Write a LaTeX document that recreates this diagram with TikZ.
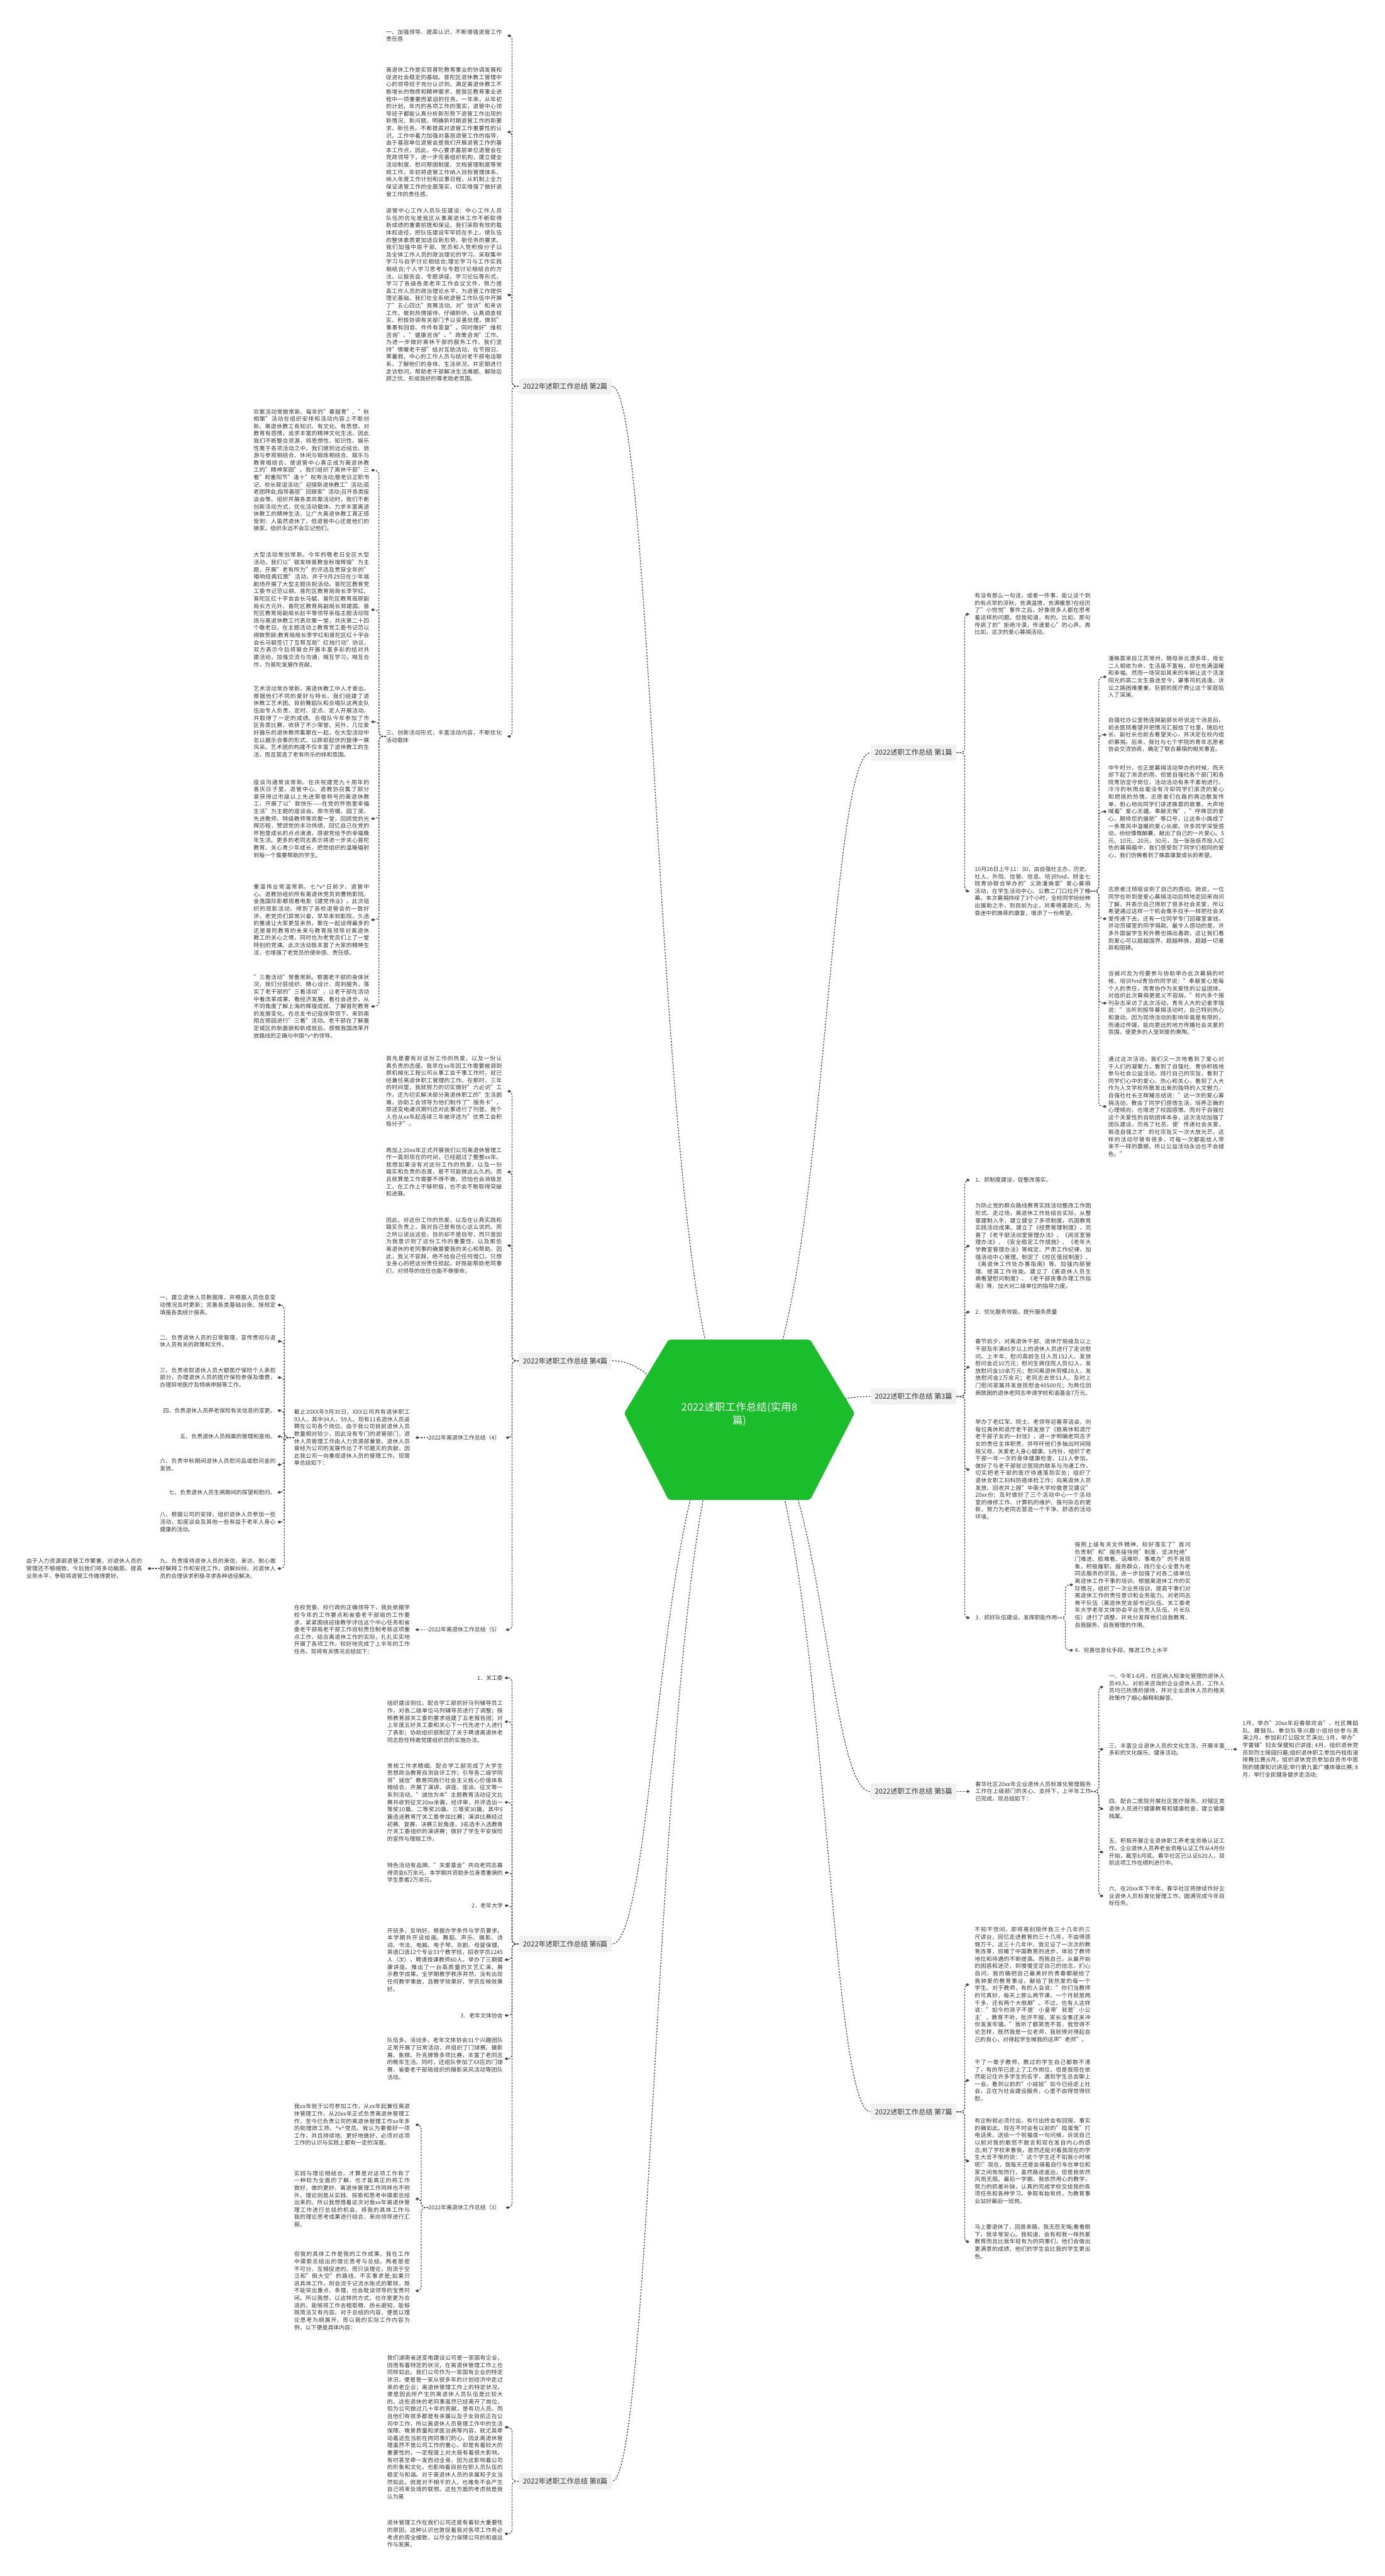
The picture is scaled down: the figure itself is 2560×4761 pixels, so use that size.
\documentclass[tikz,border=0pt]{standalone}
\usepackage{fontspec}
\setmainfont{Noto Sans CJK SC}
\usetikzlibrary{calc,arrows.meta}
\XeTeXlinebreaklocale "zh"
\XeTeXlinebreakskip=0pt plus 1pt
\definecolor{tc}{HTML}{333333}
\definecolor{lc}{HTML}{4A4A4A}
\definecolor{labf}{HTML}{F0F0F0}
\definecolor{cg}{HTML}{19BE2A}
\newcommand\ptxt{\fontsize{10.4}{13.5}\selectfont}
\newcommand\hatv{\textasciicircum v\textasciicircum}
\newcommand\Lc[3]{\draw[conn,dtip] (#1.west) -- ++(-#3,0) |- ($(#2.east)+(10,0)$);}
\newcommand\Rc[3]{\draw[conn,dtip] (#1.east) -- ++(#3,0) |- ($(#2.west)+(-10,0)$);}
\newcommand\Ls[2]{\draw[conn,dtip] (#1.west) -- ($(#2.east)+(10,0)$);}
\newcommand\Rs[2]{\draw[conn,dtip] (#1.east) -- ($(#2.west)+(-10,0)$);}
\begin{document}
\begin{tikzpicture}[x=1pt,y=-1pt,
 every node/.style={inner sep=0pt,text=tc},
 para/.style={font=\ptxt,align=justify,text width=214pt},
 one/.style={font=\ptxt},
 lab/.style={fill=labf,rounded corners=4pt,font=\fontsize{13}{15}\selectfont,inner xsep=8pt,inner ysep=9pt},
 conn/.style={draw=lc,line width=1.5pt,dash pattern=on 3pt off 2.5pt,rounded corners=8pt},
 dtip/.style={-{Diamond[length=7pt,width=5.5pt]}}]
\fill[white] (0,0) rectangle (2560,4761);
\useasboundingbox (0,0) rectangle (2560,4761);
% ---------- 第2篇 ----------
\node[lab] (n2) at (1045,714) {2022年述职工作总结 第2篇};
\node[para,anchor=east] (a1) at (928,66) {一、加强领导、提高认识，不断增强退管工作责任感};
\node[para,anchor=east] (a2) at (928,244) {离退休工作是实现普陀教育事业的协调发展和促进社会稳定的基础。普陀区退休教工管理中心的领导班子充分认识到，满足离退休教工不断增长的物质和精神需求，是我区教育事业进程中一项重要而紧迫的任务。一年来，从年初的计划，年内的各项工作的落实，退管中心领导班子都能认真分析新形势下退管工作出现的新情况、新问题，明确新时期退管工作的新要求、新任务，不断提高对退管工作重要性的认识。工作中着力加强对基层退管工作的指导，由于基层单位退管会是我们开展退管工作的基本工作点，因此，中心要求基层单位退管会在党政领导下，进一步完善组织机构，建立健全活动制度、慰问帮困制度、文档管理制度等常规工作，年初将退管工作纳入目标管理体系，纳入年度工作计划和议事日程，从机制上全力保证退管工作的全面落实，切实增强了做好退管工作的责任感。};
\node[para,anchor=east] (a3) at (928,545) {退管中心工作人员队伍建设：中心工作人员队伍的优化是我区从事离退休工作不断取得新成绩的重要前提和保证。我们采取有效的载体和途径，把队伍建设牢牢抓在手上，使队伍的整体素质更加适应新形势、新任务的要求。我们加强中层干部、党员和入党积极分子以及全体工作人员的政治理论的学习。采取集中学习与自学讨论相结合;理论学习与工作实践相结合;个人学习思考与专题讨论相结合的方法。以报告会、专题讲座、学习论坛等形式，学习了各级各类老年工作会议文件，努力提高工作人员的政治理论水平，为退管工作提供理论基础。我们在全系统退管工作队伍中开展了"五心四比"竞赛活动。对"信访"和来访工作，做到热情接待、仔细聆听、认真调查核实、积极协调有关部门予以妥善处理，做到"事事有回音、件件有答复"。同时做好"维权咨询"、"健康咨询"、"政策咨询"工作。为进一步做好离休干部的服务工作，我们坚持"情暖老干部"结对互助活动，在节假日、寒暑假，中心的工作人员与结对老干部电话联系，了解他们的身体、生活状况，并定期进行走访慰问，帮助老干部解决生活难题、解除后顾之忧，形成良好的尊老助老氛围。};
\node[para,anchor=east] (s3) at (928,1361) {三、创新活动形式，丰富活动内容，不断优化活动载体};
\node[para,anchor=east] (h1) at (683,869) {欢聚活动常做常新。每年的"春踏青"、"秋相聚"活动在组织安排和活动内容上不断创新。离退休教工有知识、有文化、有思想，对教育有感情，追求丰富的精神文化生活，因此我们不断整合资源，将思想性、知识性、娱乐性寓于各项活动之中。我们做到远近结合、旅游与参观相结合、休闲与锻炼相结合、娱乐与教育相结合，使退管中心真正成为离退休教工的"精神家园"。我们组织了离休干部"三看"和重阳节"逢十"祝寿活动;敬老日正职书记、校长联谊活动;"迎接新退休教工"活动;孤老团拜会;指导基层"回娘家"活动;召开各类座谈会等。组织开展各类欢聚活动时，我们不断创新活动方式，优化活动载体，力求丰富离退休教工的精神生活，让广大离退休教工真正感受到：人虽然退休了，但退管中心还是他们的娘家，组织永远不会忘记他们。};
\node[para,anchor=east] (h2) at (683,1127) {大型活动常创常新。今年的敬老日全区大型活动，我们以"银发映普教金秋增辉煌"为主题，开展"老有所为"的评选及贯穿全年的"唱响经典红歌"活动，并于9月29日在少年城剧场开展了大型主题庆祝活动。普陀区教育党工委书记范以纲、普陀区教育局局长李学红、普陀区红十字会会长马毓、普陀区教育局原副局长方元升、普陀区教育局副局长郑建国、普陀区教育局副局长赵平等领导亲临主题活动现场与离退休教工代表欢聚一堂，共庆第二十四个敬老日。在主题活动上教育党工委书记范以纲致贺辞;教育局局长李学红和普陀区红十字会会长马毓签订了互帮互助"红烛行动"协议，双方表示今后将联合开展丰富多彩的结对共建活动，加强交流与沟通，相互学习，相互合作，为普陀发展作贡献。};
\node[para,anchor=east] (h3) at (683,1334) {艺术活动常办常新。离退休教工中人才辈出，根据他们不同的爱好与特长，我们组建了退休教工艺术团。目前舞蹈队和合唱队这两支队伍由专人负责，定时、定点、定人开展活动，并取得了一定的成绩。合唱队今年参加了市区各类比赛，收获了不少荣誉。另外，几位爱好器乐的退休教师集聚在一起，在大型活动中总以器乐合奏的形式、以跌宕起伏的旋律一展风采。艺术团的构建不仅丰富了退休教工的生活，而且营造了老有所乐的祥和氛围。};
\node[para,anchor=east] (h4) at (683,1513) {座谈沟通常谈常新。在庆祝建党九十周年的喜庆日子里，退管中心、退教协召集了部分曾获得过市级以上先进荣誉称号的离退休教工，开展了以"我快乐——在党的怀抱里幸福生活"为主题的座谈会。原市劳模、园丁奖、先进教师、特级教师等欢聚一堂，回顾党的光辉历程，赞颂党的丰功伟绩，回忆自己在党的怀抱里成长的点点滴滴，感谢党给予的幸福晚年生活。更多的老同志表示将进一步关心普陀教育、关心青少年成长，把党组织的温暖辐射到每一个需要帮助的学生。};
\node[para,anchor=east] (h5) at (683,1700) {重温伟业常温常新。七\hatv 日前夕，退管中心、退教协组织所有离退休党员到曹杨影院、金逸国际影都观看电影《建党伟业》。此次组织的观影活动，得到了各校退管会的一致好评，老党员们异常兴奋，早早来到影院，久违的重逢让大家更显亲热，聚在一起谈得最多的还是普陀教育的未来与教育局领导对离退休教工的关心之情，同时也为老党员们上了一堂特别的党课。此次活动既丰富了大家的精神生活，也增强了老党员的使命感、责任感。};
\node[para,anchor=east] (h6) at (683,1860) {"三看活动"常看常新。根据老干部的身体状况，我们分层组织、精心设计、周到服务，落实了老干部的"三看活动"，让老干部在活动中看改革成果、看经济发展、看社会进步，从不同角度了解上海的辉煌成就、了解普陀教育的发展变化。在总支书记寇侠带领下，来到南翔古猗园进行"三看"活动。老干部在了解嘉定城区的新面貌和新成就后，感慨我国改革开放路线的正确与中国\hatv 的领导。};
% ---------- 第4篇 ----------
\node[lab] (n4) at (1045,2515) {2022年述职工作总结 第4篇};
\node[para,anchor=east] (b1) at (928,2017) {首先是要有对这份工作的热爱，以及一份认真负责的态度。我早在xx年因工作需要被调到原机械化工程公司从事工会干事工作时，就已经兼任离退休职工管理的工作。在那时，三年的时间里，我就努力的切实做好"六必访"工作，还为切实解决部分离退休职工的"生活困难，协助工会领导为他们制作了"服务卡"，原送变电通讯期刊还对此事进行了刊登。我个人也从xx年起连续三年被评选为"优秀工会积极分子"。};
\node[para,anchor=east] (b2) at (928,2166) {再加上20xx年正式开展我们公司离退休管理工作一直到现在的时间，已经超过了整整xx年。我想如果没有对这份工作的热爱，以及一份踏实和负责的态度，是不可能做这么久的。而且就算是工作需要不得不做，恐怕也会消极怠工，在工作上不够积极，也不会不断取得突破和进展。};
\node[para,anchor=east] (b3) at (928,2302) {因此，对这份工作的热爱，以及在认真实践和踏实负责上，我对自己是有信心这么说的。而之所以说出这些，目的却不是自夸，而只是因为我意识到了这份工作的重要性，以及那些离退休的老同事的确需要我的关心和帮助。因此，我义不容辞，绝不给自己任何借口，只想全身心的把这份责任担起，好既能帮助老同事们，对领导的信任也能不辱使命。};
\node[one,anchor=east] (l4) at (925,2657) {2022年离退休工作总结（4）};
\node[para,anchor=east] (c0) at (758,2657) {截止20XX年9月30日，XXX公司共有退休职工93人，其中34人，59人。现有11名退休人员返聘在公司各个岗位。由于我公司目前退休人员数量相对较少，因此没有专门的退管部门，退休人员管理工作由人力资源部兼管。退休人员曾经为公司的发展作出了不可磨灭的贡献，因此我公司一向重视退休人员的管理工作。现简单总结如下：};
\node[para,anchor=east] (i1) at (510,2412) {一、建立退休人员数据库，并根据人员信息变动情况及时更新；完善各类基础台账，按规定填报各类统计报表。};
\node[para,anchor=east] (i2) at (510,2479) {二、负责退休人员的日常管理，宣传贯彻与退休人员有关的政策和文件。};
\node[para,anchor=east] (i3) at (510,2546) {三、负责收取退休人员大额医疗保险个人承担部分，办理退休人员的医疗保险参保及缴费，办理异地医疗及特病申报等工作。};
\node[one,anchor=east] (i4) at (510,2607) {四、负责退休人员养老保险有关信息的变更。};
\node[one,anchor=east] (i5) at (510,2655) {五、负责退休人员档案的管理和查询。};
\node[para,anchor=east] (i6) at (510,2707) {六、负责中秋期间退休人员慰问品或慰问金的发放。};
\node[one,anchor=east] (i7) at (510,2758) {七、负责退休人员生病期间的探望和慰问。};
\node[para,anchor=east] (i8) at (510,2813) {八、根据公司的安排，组织退休人员参加一些活动，如座谈会及其他一些有益于老年人身心健康的活动。};
\node[para,anchor=east] (i9) at (510,2899) {九、负责接待退休人员的来信、来访，耐心做好解释工作和安抚工作，调解纠纷。对退休人员的合理诉求积极寻求各种途径解决。};
\node[para,anchor=east] (fa) at (263,2899) {由于人力资源部退管工作繁重，对退休人员的管理还不够细致，今后我们将多动脑筋，提高业务水平，争取将退管工作做得更好。};
\node[one,anchor=east] (l5) at (925,3012) {2022年离退休工作总结（5）};
\node[para,anchor=east] (c5) at (758,3012) {在校党委、校行政的正确领导下，我处依据学校今年的工作要点和省委老干部局的工作要求，紧紧围绕迎接教学评估这个中心任务和省委老干部局老干部工作目标责任制考核这项重点工作，结合离退休工作的实际，扎扎实实地开展了各项工作，较好地完成了上半年的工作任务。现将有关情况总结如下：};
% ---------- 第6篇 ----------
\node[lab] (n6) at (1045,3593) {2022年述职工作总结 第6篇};
\node[one,anchor=east] (g1) at (930,3101) {1．关工委};
\node[para,anchor=east] (g2) at (930,3182) {组织建设到位。配合学工部抓好马列辅导员工作，对各二级单位马列辅导员进行了调整；按照教育部关工委的要求组建了五老报告团；对上年度五好关工委和关心下一代先进个人进行了表彰；协助组织部制定了关于聘请离退休老同志担任特邀党建组织员的实施办法。};
\node[para,anchor=east] (g3) at (930,3331) {常规工作求精细。配合学工部完成了大学生思想政治教育自测自评工作；引导各二级学院将"诚信"教育同践行社会主义核心价值体系相结合，开展了演讲、讲座、座谈、征文等一系列活动。"诚信为本"主题教育活动征文比赛共收到征文20xx余篇，经评审，共评选出一等奖10篇、二等奖20篇、三等奖30篇，其中5篇选送教育厅关工委参加比赛；演讲比赛经过初赛、复赛、决赛三轮角逐，3名选手入选教育厅关工委组织的演讲赛；做好了学生平安保险的宣传与理赔工作。};
\node[para,anchor=east] (g4) at (930,3461) {特色活动有品牌。"关爱基金"共向老同志募得资金6万余元，本学期共资助多位身患重病的学生患者2万余元。};
\node[one,anchor=east] (g5) at (930,3522) {2．老年大学};
\node[para,anchor=east] (g6) at (930,3622) {开班多，反响好。根据办学条件与学员要求，本学期共开设绘画、舞蹈、声乐、摄影、诗词、书法、电脑、电子琴、京剧、母婴保健、英语口语12个专业33个教学班，招收学员1245人（次），聘请授课教师60人。举办了三期健康讲座。推出了一台高质量的文艺汇演，展示教学成果。全学期教学秩序井然，没有出现任何教学事故，且教学效果好，学员反映效果好。};
\node[one,anchor=east] (g7) at (930,3725) {3．老年文体协会};
\node[para,anchor=east] (g8) at (930,3805) {队伍多，活动多。老年文体协会31个兴趣团队正常开展了日常活动，并组织了门球赛、摄影展、象棋、扑克牌等多项比赛，丰富了老同志的晚年生活。同时，还组队参加了XX区的门球赛、省委老干部局组织的摄影采风活动等团队活动。};
\node[one,anchor=east] (l3) at (925,4080) {2022年离退休工作总结（3）};
\node[para,anchor=east] (k1) at (758,3927) {我xx年就于公司参加工作，从xx年起兼任离退休管理工作，从20xx年正式负责离退休管理工作，至今已负责公司的离退休管理工作xx年多的助理政工师、\hatv 党员。我认为要做好一项工作，并且持续地、更好地做好，必须对这项工作的认识与实践上都有一定的深度。};
\node[para,anchor=east] (k2) at (758,4064) {实践与理论相结合，才算是对这项工作有了一种较为全面的了解，也才能真正的将工作做好，做的更好，离退休管理工作同样也不例外。理论则是从实践、探索和思考中摸索总结出来的。所以我想借着这次对我xx年离退休管理工作进行总结的机会，将我的具体工作与我的理论思考成果进行结合，来向领导进行汇报。};
\node[para,anchor=east] (k3) at (758,4234) {但我的具体工作是我的工作成果，我在工作中摸索总结出的理论思考与总结，两者是密不可分、互相促进的。而只谈理论，则流于空泛和"假大空"的路线，不实事求是;如果只说具体工作，则会流于记流水账式的繁琐，既不能突出重点、条理，也会耽误领导的宝贵时间。所以我想，以这样的方式，也许是更为合适的，能够将工作去粗取精、扬长避短，能够既简洁又有内容。对于总结的内容，便是以理论思考为纲展开，而以我的实际工作内容为例，以下便是具体内容：};
% ---------- 第8篇 ----------
\node[lab] (n8) at (1045,4586) {2022年述职工作总结 第8篇};
\node[para,anchor=east] (m1) at (930,4486) {我们湖南省送变电建设公司是一家国有企业，因而有着特定的状况，在离退休管理工作上也同样如此。我们公司作为一家国有企业的特定状况，便是是一家从很多年的计划经济中走过来的老企业；离退休管理工作上的特定状况，便是因此所产生的离退休人员队伍是比较大的。这些退休的老同事虽然已经离开了岗位，但为公司做过几十年的贡献，是有功人员。而且他们有很多都是有亲属以及子女目前正在公司中工作，所以离退休人员管理工作中的生活保障、晚景质量和求医治病等内容，就尤其牵动着这些当前在岗同事们的心。因此离退休管理虽然不是公司工作的重心，却是有着较大的重要性的，一定程度上对大局有着很大影响，有时甚至牵一发而动全身。因为这影响着公司的形象和文化，也影响着目前在职人员队伍的稳定与和谐。对于离退休人员的亲属和子女当然如此，就是对不相干的人，也难免不会产生自己将来处境的联想。这些方面的考虑就是我认为离};
\node[para,anchor=east] (m2) at (930,4683) {退休管理工作在我们公司还是有着较大重要性的原因，这种认识也敦促着我对各项工作务必考虑的周全细致，以尽全力保障公司的和谐运作与发展。};
% ---------- 第1篇 ----------
\node[lab] (r1) at (1689,1391) {2022述职工作总结 第1篇};
\node[para,anchor=west] (p1) at (1802,1135) {有没有那么一句话，或者一件事，能让这个到的有点早的凉秋，充满温情，充满暖意?在经历了"小悦悦"事件之后，好像很多人都在思考着这样的问题。但我知道，有的。比如，那句传疯了的"拒绝冷漠，传递爱心"的心声。再比如，这次的爱心募捐活动。};
\node[para,anchor=west] (p2) at (1802,1647) {10月26日上午11：30，由自强社主办，历史、社人、外院、信管、信息、培训hnd、财金七院青协联合举办的"义助潘姝霏"爱心募捐活动，在学生活动中心、公教二门口拉开了帷幕。本次募捐持续了3个小时，全校同学纷纷伸出援助之手，到目前为止，共筹得善款元，为昏迷中的姝菲的康复，增添了一份希望。};
\node[para,anchor=west] (q1) at (2049,1251) {潘姝霏来自江苏常州，随母亲北漂多年，母女二人相依为命，生活虽不富裕，却也充满温暖和幸福。然而一场突如其来的车祸让这个活泼阳光的高二女生昏迷至今，肇事司机逃逸，诉讼之路困难重重，巨额的医疗费让这个家庭陷入了深渊。};
\node[para,anchor=west] (q2) at (2049,1358) {自强社办公室杨连娴副部长听说这个消息后，前去医院看望并把情况汇报给了社里，随后社长、副社长也前去看望关心，并决定在校内组织募捐。后来，我社与七个学院的青年志愿者协会交流协商，确定了联合募捐的相关事宜。};
\node[para,anchor=west] (q3) at (2049,1500) {中午时分，也正是募捐活动举办的时候，而天却下起了淅沥的雨，但是自强社各个部门和各院青协坚守岗位，活动活动有条不紊地进行。冷冷的秋雨丝毫没有冷却同学们滚烫的爱心和燃烧的热情，志愿者们在路的两边散发传单，耐心地向同学们讲述姝霏的故事，大声地喊着"爱心无疆，奉献无悔"、"呼唤您的爱心，期待您的援助"等口号，让这条小路成了一条寒风中温暖的爱心长廊。许多同学深受感动，纷纷慷慨解囊，献出了自己的一片爱心。5元、10元、20元、50元，当一张张纸币投入红色的募捐箱中，我们感受到了同学们相同的爱心，我们仿佛看到了姝霏康复成长的希望。};
\node[para,anchor=west] (q4) at (2049,1698) {志愿者汪琦瑶谈到了自己的感动。她说，一位同学在听到是爱心募捐活动后特地走回来询问了解，并表示自己得到了很多社会关爱，所以希望通过这样一个机会像手拉手一样把社会关爱传递下去。还有一位同学专门回寝室拿钱，并动员寝室的同学捐款。最令人感动的是，许多外国留学生和外教也捐出善款，这让我们看到爱心可以超越国界，超越种族，超越一切差异和阻碍。};
\node[para,anchor=west] (q5) at (2049,1854) {当被问及为何要参与协助举办此次募捐的时候，培训hnd青协的同学说："奉献爱心是每个人的责任，而青协作为关爱性的公益团体，对组织此次募捐更是义不容辞。"校内多个报刊杂志采访了此次活动，青年人大的记者李瑞说："当听到报导募捐活动时，自己特别热心和激动。因为现场活动的影响毕竟是有限的，而通过传媒，能向更远的地方传播社会关爱的氛围，使更多的人受到爱的熏陶。"};
\node[para,anchor=west] (q6) at (2049,2045) {通过这次活动，我们又一次地看到了爱心对于人们的凝聚力，看到了自强社、青协积极地参与社会公益活动，践行自己的宗旨，看到了同学们心中的爱心、热心和关心，看到了人大作为人文学校所散发出来的独特的人文魅力。自强社社长王辉耀总结说："这一次的爱心募捐活动，教会了同学们感悟生活，培养正确的心理倾向，也增进了校园感情。而对于自强社这个关爱性的自助团体本身，这次活动加强了团队建设，历练了社员，使'传递社会关爱，锻造自强之才'的社宗旨又一次大放光芒。这样的活动尽管有很多，可每一次都能给人带来不一样的震撼，所以公益活动永远也不会褪色。"};
% ---------- 第3篇 ----------
\node[lab] (r3) at (1689,2581) {2022述职工作总结 第3篇};
\node[one,anchor=west] (t1) at (1803,2181) {1．抓制度建设，促整改落实。};
\node[para,anchor=west] (t2) at (1803,2303) {为防止党的群众路线教育实践活动整改工作图形式、走过场，离退休工作处结合实际，从整章建制入手，建立健全了多项制度，巩固教育实践活动成果。建立了《经费管理制度》，完善了《老干部活动室管理办法》、《阅览室管理办法》、《安全稳定工作措施》、《老年大学教室管理办法》等规定。严肃工作纪律，加强活动中心管理。制定了《校区值班制度》、《离退休工作处办事指南》等。加强内部管理、提高工作效能。建立了《离退休人员生病看望慰问制度》、《老干部丧事办理工作指南》等，加大对二级单位的指导力度。};
\node[one,anchor=west] (t3) at (1803,2425) {2．优化服务效能，提升服务质量};
\node[para,anchor=west] (t4) at (1803,2527) {春节前夕，对离退休干部、退休厅局级及以上干部及年满85岁以上的退休人员进行了走访慰问。上半年，慰问高龄生日人员152人，发放慰问金近10万元；慰问生病住院人员92人，发放慰问金10余万元；慰问离退休劳模28人，发放慰问金2万余元；老同志去世51人，及时上门慰问家属并发放抚慰金40500元；为两位因病致困的退休老同志申请学校和谐基金7万元。};
\node[para,anchor=west] (t5) at (1803,2716) {举办了老红军、院士、老领导迎春茶话会，向每位离休和退厅老干部发放了《致离休和退厅老干部子女的一封信》，进一步明确老同志子女的责任主体职责，并呼吁他们多抽出时间陪陪父母，关爱老人身心健康。5月份，组织了老干部一年一次的身体健康检查，121人参加，做好了与老干部就诊医院的联系与沟通工作，切实把老干部的医疗待遇落到实处；组织了退休女职工妇科防癌体检工作；向离退休人员发放、回收并上报"中南大学校徽意见建议"20xx份；及时做好了三个活动中心一个活动室的维修工作、计算机的维护、报刊杂志的更新，努力为老同志营造一个干净、舒适的活动环境。};
\node[one,anchor=west] (t6) at (1803,2990) {3．抓好队伍建设，发挥职能作用};
\node[para,anchor=west] (u1) at (1987,2929) {按照上级有关文件精神，较好落实了"首问负责制"和"服务接待岗"制度，坚决杜绝"门难进、脸难看、话难听、事难办"的不良现象，积极履职，服务群众，践行全心全意为老同志服务的宗旨。进一步加强了对各二级单位离退休工作干事的培训，根据离退休工作的实际情况，组织了一次业务培训，提高干事们对离退休工作的责任意识和业务能力。对老同志骨干队伍（离退休党支部书记队伍、关工委老年大学老年文体协会平台负责人队伍、片长队伍）进行了调整，并充分发挥他们自我教育、自我服务、自我管理的作用。};
\node[one,anchor=west] (u2) at (1987,3050) {4．完善信息化手段，推进工作上水平};
% ---------- 第5篇 ----------
\node[lab] (r5) at (1689,3311) {2022述职工作总结 第5篇};
\node[para,anchor=west] (v0) at (1803,3311) {春华社区20xx年企业退休人员标准化管理服务工作在上级部门的关心、支持下，上半年工作已完成，现总结如下：};
\node[para,anchor=west] (w1) at (2050,3118) {一、今年1-6月，社区纳入标准化管理的退休人员49人。对前来咨询的企业退休人员，工作人员均已热情的接待，并对企业退休人员的相关政策作了细心解释和解答。};
\node[para,anchor=west] (w2) at (2050,3233) {三、丰富企业退休人员的文化生活，开展丰富多彩的文化娱乐、健身活动。};
\node[para,anchor=west] (x1) at (2297,3233) {1月，举办"20xx年迎春联欢会"，社区舞蹈队、腰鼓队、拳剑队等兴趣小组纷纷参与表演;2月，参加彩灯公园文艺演出; 3月，举办"学雷锋"妇女保健知识讲座; 4月，组织退休党员到烈士陵园扫墓;组织退休职工参加丹桂街道排舞比赛;6月，组织退休党员参加自贡市中医院的健康知识讲座;举行第九套广播体操比赛; 8月，举行全民健身健步走活动;};
\node[para,anchor=west] (w3) at (2050,3343) {四、配合二医院开展社区医疗服务。对辖区类退休人员进行健康教育和健康检查，建立健康档案。};
\node[para,anchor=west] (w4) at (2050,3423) {五、积极开展企业退休职工养老金资格认证工作。企业退休人员养老金资格认证工作从4月份开始，截至6月底。春华社区已认证620人，目前这项工作在顺利进行中。};
\node[para,anchor=west] (w5) at (2050,3504) {六、在20xx年下半年，春华社区将继续作好企业退休人员标准化管理工作，圆满完成今年目标任务。};
% ---------- 第7篇 ----------
\node[lab] (r7) at (1689,3903) {2022述职工作总结 第7篇};
\node[para,anchor=west] (y1) at (1802,3668) {不知不觉间，即将离别陪伴我三十几年的三尺讲台，回忆走进教育的三十几年，不由得感慨万千。这三十几年中，我见证了一次次的教育改革，目睹了中国教育的进步，体验了教师地位和待遇的不断提高。而我自己，从最开始的困惑和迷茫，到慢慢坚定自己的信念，扪心自问，我的确把自己最美好的青春都献给了我钟爱的教育事业，献给了我热爱的每一个学生。对于教师，有的人会说："你们当教师的可真好，每天上那么两节课，一个月就是两千多，还有两个大假期"。不过，也有人这样说："如今的孩子不是'小皇帝'就是'小公主'，教育不听，批评不服，家长没事还来冲你发发牢骚。"我听了都笑而不答，我觉得不论怎样，既然我是一位老师，我就得对得起自己的良心，对得起学生喊我的这声"老师"。};
\node[para,anchor=west] (y2) at (1802,3845) {干了一辈子教师，教过的学生自己都数不清了，有的早已走上了工作岗位，但是我现在依然能记住许多学生的名字，遇到学生总会聊上一会，看到以前的"小娃娃"如今已经走上社会，正在为社会建设服务，心里不由得觉得欣慰。};
\node[para,anchor=west] (y3) at (1802,3994) {有企盼就必须付出，有付出终会有回报，事实的确如此。现在不时会有以前的"捣蛋鬼"打电话来，送给一个祝福或一句问候，诉说自己以前对我的敢怒不敢言和现在发自内心的感念;到了学校来看我，居然还能对着我现在的学生大言不惭的说："这个学生还不如我小时候呢!"现在，我每天还是会骑着自行车在单位和家之间匆匆而行，虽然路途遥远，但是我依然风雨无阻。最后一学期，我依然用心的教学，努力的抓差补缺，认真的完成学校交给我的各项任务和各种学习。争取有始有终，为教育事业站好最后一班岗。};
\node[para,anchor=west] (y4) at (1802,4143) {马上要退休了，回首来路，我无怨无悔;看看眼下，我非常安心。我知道，会有和我一样热爱教育而且比我年轻有为的同事们，他们会做出更满意的成绩，他们的学生会比我的学生更出色。};
% ---------- connectors ----------
\foreach \c in {a1,a2,a3,s3} {\Lc{n2}{\c}{12}}
\foreach \c in {h1,h2,h3,h4,h5,h6} {\Lc{s3}{\c}{13}}
\foreach \c in {b1,b2,b3,l4,l5} {\Lc{n4}{\c}{12}}
\Ls{l4}{c0}
\foreach \c in {i1,i2,i3,i4,i5,i6,i7,i8,i9} {\Lc{c0}{\c}{18}}
\Ls{i9}{fa}
\Ls{l5}{c5}
\foreach \c in {g1,g2,g3,g4,g5,g6,g7,g8,l3} {\Lc{n6}{\c}{12}}
\foreach \c in {k1,k2,k3} {\Lc{l3}{\c}{13}}
\foreach \c in {m1,m2} {\Lc{n8}{\c}{12}}
\foreach \c in {p1,p2} {\Rc{r1}{\c}{15}}
\foreach \c in {q1,q2,q3,q4,q5,q6} {\Rc{p2}{\c}{15}}
\foreach \c in {t1,t2,t3,t4,t5,t6} {\Rc{r3}{\c}{15}}
\foreach \c in {u1,u2} {\Rc{t6}{\c}{15}}
\Rs{r5}{v0}
\foreach \c in {w1,w2,w3,w4,w5} {\Rc{v0}{\c}{14}}
\Rs{w2}{x1}
\foreach \c in {y1,y2,y3,y4} {\Rc{r7}{\c}{15}}
% center curves
\foreach \n in {n2,n4,n6,n8} {\draw[conn] (1367,2612) .. controls (1215,2612) and (1215,0|-\n.east) .. (\n.east);}
\foreach \n in {r1,r3,r5,r7} {\draw[conn] (1367,2612) .. controls (1525,2612) and (1525,0|-\n.west) .. (\n.west);}
% center
\fill[cg,rounded corners=4pt] (1154,2612) -- (1236,2476) -- (1498,2476) -- (1580,2612) -- (1498,2772) -- (1236,2772) -- cycle;
\node[text=white,font=\fontsize{19}{25}\selectfont,align=center,text width=240pt] (ctr) at (1367,2614) {2022述职工作总结(实用8\\篇)};
\end{tikzpicture}
\end{document}
